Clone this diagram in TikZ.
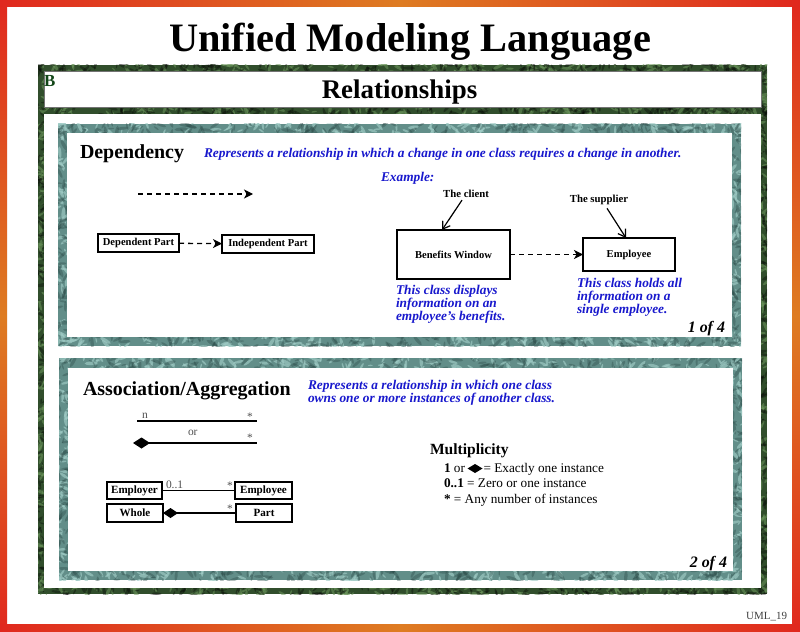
\documentclass[tikz,border=0pt]{standalone}
\usepackage{fontspec}
\setmainfont{Liberation Serif}
\usetikzlibrary{arrows.meta,calc}

\definecolor{rimred}{RGB}{224,40,30}
\definecolor{rimorange}{RGB}{222,124,34}
\definecolor{mossdark}{RGB}{34,60,32}
\definecolor{mosslight}{RGB}{108,150,92}
\definecolor{tealdark}{RGB}{56,100,96}
\definecolor{teallight}{RGB}{160,204,198}
\definecolor{noteblue}{RGB}{24,24,205}
\definecolor{letterB}{RGB}{18,70,24}
\definecolor{labelgray}{RGB}{80,80,80}

% scatter n small rotated ellipses in the box (#1,#2)-(#3,#4)
\newcommand\speckle[6]{%
  \foreach \k in {1,...,#5}{%
    \pgfmathsetmacro\spx{#1+rnd*(#3-#1)}%
    \pgfmathsetmacro\spy{#2+rnd*(#4-#2)}%
    \pgfmathsetmacro\spr{0.8+rnd*1.8}%
    \pgfmathsetmacro\sprx{2.6*\spr}%
    \pgfmathsetmacro\spry{0.7*\spr}%
    \pgfmathsetmacro\spa{rnd*180}%
    \fill[#6,rotate around={\spa:(\spx,\spy)}] (\spx,\spy)
      ellipse [x radius=\sprx pt, y radius=\spry pt];
  }}
% a mottled band: light and dark flecks
\newcommand\mossband[5]{%
  \speckle{#1}{#2}{#3}{#4}{#5}{mosslight,opacity=0.55}%
  \speckle{#1}{#2}{#3}{#4}{#5}{black,opacity=0.35}}
\newcommand\tealband[5]{%
  \speckle{#1}{#2}{#3}{#4}{#5}{teallight,opacity=0.65}%
  \speckle{#1}{#2}{#3}{#4}{#5}{tealdark!70!black,opacity=0.35}}

\begin{document}
\begin{tikzpicture}[x=1bp,y=-1bp,
  every node/.style={inner sep=0pt,outer sep=0pt},
  classbox/.style={draw=black,line width=1.1bp,fill=white,
    font=\bfseries\fontsize{10.6}{12}\selectfont},
  note/.style={text=noteblue,anchor=base west,
    font=\bfseries\itshape\fontsize{13.4}{15}\selectfont},
  heading/.style={anchor=base west,font=\bfseries\fontsize{20}{24}\selectfont},
  caption/.style={anchor=base,font=\bfseries\fontsize{10.8}{12}\selectfont},
  tagtext/.style={anchor=base west,text=labelgray,font=\fontsize{11.5}{13}\selectfont},
  legend/.style={anchor=base west,font=\fontsize{13.3}{15}\selectfont},
  pagecount/.style={anchor=base east,font=\bfseries\itshape\fontsize{16}{18}\selectfont},
  depline/.style={dash pattern=on 5bp off 4bp,line width=1.3bp,
    -{Stealth[length=9bp,width=9bp,inset=2.5bp]}},
  pointer/.style={line width=1.2bp,
    -{Straight Barb[length=7bp,width=9bp,line width=1.2bp]}},
  assoc/.style={line width=1.2bp},
  rimh/.style={left color=rimred,right color=rimred,middle color=rimorange},
  rimv/.style={top color=rimred,bottom color=rimred,middle color=rimorange},
]
\useasboundingbox (0,0) rectangle (800,632);
\pgfmathsetseed{17}

% ---------- outer rim: orange mid-sides, red corners ----------
\fill[white] (0,0) rectangle (800,632);
\shade[rimv] (0,0) rectangle (7,632);
\shade[rimv] (792,0) rectangle (800,632);
\shade[rimh] (0,0) rectangle (800,7);
\shade[rimh] (0,624) rectangle (800,632);

% ---------- green marbled frame ----------
\begin{scope}
  \clip (38,65) rectangle (767,594);
  \fill[mossdark!80!mosslight] (38,65) rectangle (767,594);
  \mossband{36}{63}{769}{73}{150}
  \mossband{36}{105}{769}{116}{150}
  \mossband{36}{586}{769}{596}{150}
  \mossband{36}{63}{46}{596}{110}
  \mossband{759}{63}{769}{596}{110}
\end{scope}
\fill[white,draw=black!55,line width=0.5bp] (44,71) rectangle (761,107);
\fill[white] (44,114) rectangle (761,588);

% ---------- teal marbled panels ----------
\begin{scope}
  \clip (58,124) rectangle (741,346);
  \fill[tealdark!60!teallight] (58,124) rectangle (741,346);
  \tealband{56}{122}{743}{135}{160}
  \tealband{56}{335}{743}{348}{160}
  \tealband{56}{122}{69}{348}{60}
  \tealband{730}{122}{743}{348}{60}
\end{scope}
\fill[white] (67,133) rectangle (732,337);

\begin{scope}
  \clip (59,358) rectangle (742,580);
  \fill[tealdark!60!teallight] (59,358) rectangle (742,580);
  \tealband{57}{356}{744}{370}{160}
  \tealband{57}{569}{744}{582}{160}
  \tealband{57}{356}{70}{582}{60}
  \tealband{731}{356}{744}{582}{60}
\end{scope}
\fill[white] (68,368) rectangle (733,571);

% ---------- titles ----------
\node[anchor=base,font=\bfseries\fontsize{40.5}{46}\selectfont] (title) at (410,52) {Unified Modeling Language};
\node[anchor=base west,text=letterB,font=\bfseries\fontsize{17}{20}\selectfont] (sect) at (44,87) {B};
\node[anchor=base,font=\bfseries\fontsize{27}{30}\selectfont] (subtitle) at (399.5,99) {Relationships};

% ---------- dependency ----------
\node[heading] (dephead) at (80,159) {Dependency};
\node[note] (depdef) at (204,158) {Represents a relationship in which a change in one class requires a change in another.};
\node[note] (example) at (381,182) {Example:};

\coordinate (depA) at (138,194);
\coordinate (depB) at (253,194);
\draw[depline] (depA) -- (depB);

\node[classbox,minimum width=81bp,minimum height=18bp] (dep) at (138.5,243) {Dependent Part};
\node[classbox,minimum width=92bp,minimum height=18bp] (indep) at (268,244) {Independent Part};
\draw[depline] (dep) -- (indep);

\node[classbox,minimum width=113bp,minimum height=49bp] (bw) at (453.5,254.5) {Benefits Window};
\node[classbox,minimum width=92bp,minimum height=33bp] (emp) at (629,254.5) {Employee};
\draw[depline] (bw) -- (emp);

\node[caption] (client) at (466,198) {The client};
\node[caption] (supplier) at (599,203) {The supplier};
\draw[pointer] ($(client.south)+(-4,2)$) -- ($(bw.north west)+(45,0)$);
\draw[pointer] ($(supplier.south)+(8,3)$) -- ($(emp.north west)+(43,0)$);

\node[note] (bwn1) at (396,294) {This class displays};
\node[note] (bwn2) at (396,307) {information on an};
\node[note] (bwn3) at (396,320) {employee’s benefits.};
\node[note] (empn1) at (577,287) {This class holds all};
\node[note] (empn2) at (577,300) {information on a};
\node[note] (empn3) at (577,313) {single employee.};

\node[pagecount] (page1) at (725,332) {1 of 4};

% ---------- association / aggregation ----------
\node[heading] (asshead) at (83,395) {Association/Aggregation};
\node[note] (assdef1) at (308,389) {Represents a relationship in which one class};
\node[note] (assdef2) at (308,402) {owns one or more instances of another class.};

\coordinate (asA) at (137,421);
\coordinate (asB) at (257,421);
\draw[assoc] (asA) -- (asB);
\node[tagtext] (nlabel) at (142,418) {n};
\node[tagtext] (star1) at (247,420.5) {*};
\node[tagtext] (orlabel) at (188,435) {or};

\coordinate (agA) at (133,443);
\coordinate (agB) at (257,443);
\draw[assoc,{Diamond[length=17bp,width=11bp]}-] (agA) -- (agB);
\node[tagtext] (star2) at (247,441.5) {*};

\node[classbox,minimum width=55bp,minimum height=17bp,font=\bfseries\fontsize{11.1}{12}\selectfont] (employer) at (134.5,490.5) {Employer};
\node[classbox,minimum width=57bp,minimum height=17bp,font=\bfseries\fontsize{11.1}{12}\selectfont] (employee) at (263.5,490.5) {Employee};
\draw[assoc] (employer) -- (employee);
\node[tagtext] (zeroone) at (166,488) {0..1};
\node[tagtext] (star3) at (227,489.5) {*};

\node[classbox,minimum width=56bp,minimum height=18bp,font=\bfseries\fontsize{11.1}{12}\selectfont] (whole) at (135,513) {Whole};
\node[classbox,minimum width=56bp,minimum height=18bp,font=\bfseries\fontsize{11.1}{12}\selectfont] (part) at (264,513) {Part};
\draw[assoc,{Diamond[length=15bp,width=10bp]}-] (whole) -- (part);
\node[tagtext] (star4) at (227,512.5) {*};

% multiplicity legend
\node[anchor=base west,font=\bfseries\fontsize{15.6}{18}\selectfont] (multhead) at (430,454) {Multiplicity};
\node[legend] (leg1) at (444,472) {\textbf{1} or};
\fill (467.5,468.5) -- (475,464) -- (482.5,468.5) -- (475,473) -- cycle;
\node[legend] (leg1b) at (483.5,472) {= Exactly one instance};
\node[legend] (leg2) at (444,487.5) {\textbf{0..1} = Zero or one instance};
\node[legend] (leg3) at (444,503) {\textbf{*} = Any number of instances};

\node[pagecount] (page2) at (727,567) {2 of 4};

\node[anchor=base east,text=black!75,font=\fontsize{11}{13}\selectfont] (slideid) at (787,619) {UML\_19};
\end{tikzpicture}
\end{document}
